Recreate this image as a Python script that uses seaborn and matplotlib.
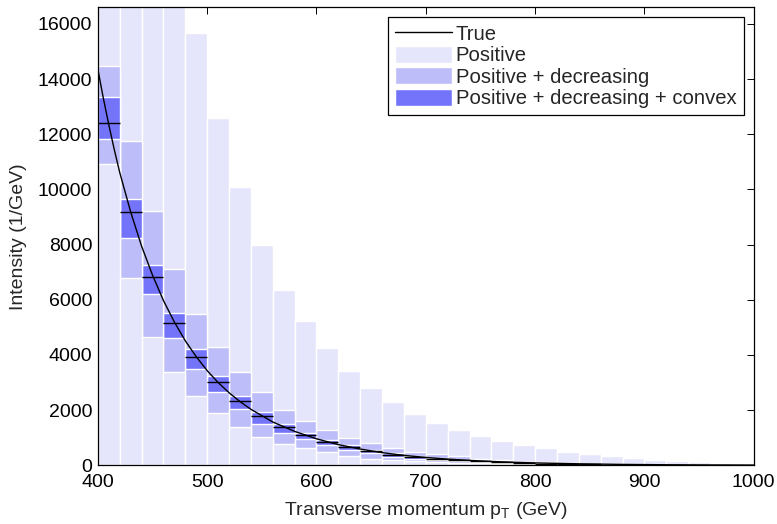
import matplotlib
matplotlib.use("Agg")
import matplotlib.pyplot as plt
import seaborn as sns
from matplotlib.lines import Line2D
from matplotlib.patches import Patch

# Bin centres of the 20 GeV wide pT bins
bin_centers = list(range(410, 1000, 20))
bin_width = 20

# Upper bound of the positivity-only interval (lower bound is 0)
positive_upper = [37000, 30000, 24000, 19500, 15670, 12580, 10100, 7985, 6340, 5220,
                  4250, 3420, 2800, 2290, 1855, 1545, 1280, 1075, 880, 737,
                  616, 495, 415, 340, 270, 193, 157, 121, 72, 48]

# Positive + decreasing interval
decreasing_upper = [14460, 11740, 9220, 7100, 5480, 4300, 3390, 2650, 2020, 1610,
                    1270, 1000, 800, 615, 495, 400, 320, 235, 180, 135,
                    105, 80, 60, 45, 35, 25, 18, 12, 8, 5]
decreasing_lower = [10930, 6800, 4640, 3370, 2500, 1900, 1400, 1040, 785, 645,
                    465, 340, 240, 190, 155, 130, 100, 80, 60, 45,
                    35, 25, 20, 15, 10, 8, 5, 3, 2, 1]

# Positive + decreasing + convex interval
convex_upper = [13340, 9650, 7260, 5520, 4230, 3240, 2510, 1930, 1500, 1185,
                920, 725, 555, 435, 340, 265, 205, 155, 120, 90,
                70, 55, 42, 32, 25, 18, 13, 9, 6, 4]
convex_lower = [11830, 8230, 6200, 4600, 3480, 2660, 2030, 1510, 1180, 965,
                740, 555, 435, 315, 240, 190, 145, 110, 85, 65,
                50, 38, 28, 21, 15, 11, 8, 5, 3, 2]

# True bin-averaged intensity
true_mean = [12410, 9170, 6840, 5150, 3910, 3010, 2320, 1780, 1400, 1090,
             860, 650, 520, 390, 300, 230, 180, 140, 105, 80,
             62, 48, 37, 28, 21, 16, 12, 9, 6, 4]

# True spectrum
curve_pt = [400, 405, 410, 415, 420, 430, 440, 450, 460, 470, 480, 490, 500, 510,
            520, 530, 540, 560, 580, 600, 620, 640, 660, 680, 700, 720, 740, 760,
            780, 800, 840, 880, 920, 960, 1000]
curve_val = [14350, 13300, 12340, 11440, 10610, 9180, 7940, 6890, 5970, 5190, 4510,
             3935, 3430, 3000, 2630, 2310, 2030, 1570, 1230, 960, 750, 590, 460,
             360, 285, 225, 178, 140, 110, 87, 54, 33, 20, 11, 6]

x_ticks = [400, 500, 600, 700, 800, 900, 1000]
y_ticks = [0, 2000, 4000, 6000, 8000, 10000, 12000, 14000, 16000]

c_pos = "#E5E5FB"
c_dec = "#BDBDFA"
c_cvx = "#7474FB"

sns.set_theme(style="ticks")
plt.rcParams["font.family"] = ["Liberation Sans", "DejaVu Sans"]
plt.rcParams["mathtext.fontset"] = "custom"
plt.rcParams["mathtext.rm"] = "Liberation Sans"
plt.rcParams["mathtext.it"] = "Liberation Sans"
plt.rcParams["axes.edgecolor"] = "black"

fig = plt.figure(figsize=(7.77, 5.24), dpi=100)
ax = fig.add_axes([0.126, 0.112, 0.844, 0.874])

# Nested intervals: painted outer to inner so each band keeps its own colour
layers = [(positive_upper, c_pos), (decreasing_upper, c_dec), (convex_upper, c_cvx),
          (convex_lower, c_dec), (decreasing_lower, c_pos)]
for vals, col in layers:
    sns.barplot(x=bin_centers, y=vals, native_scale=True, orient="x", width=1,
                color=col, saturation=1, edgecolor="white", linewidth=1.0,
                errorbar=None, ax=ax)

# True bin averages as short horizontal segments
left_edges = [c - bin_width / 2 for c in bin_centers]
right_edges = [c + bin_width / 2 for c in bin_centers]
ax.hlines(true_mean, left_edges, right_edges, colors="black", linewidth=1.0, zorder=3)

sns.lineplot(x=curve_pt, y=curve_val, color="black", linewidth=1.0, ax=ax, zorder=4)

ax.set_xlim(400, 1000)
ax.set_ylim(0, 16600)
ax.set_xticks(x_ticks)
ax.set_yticks(y_ticks)
ax.tick_params(direction="in", top=True, right=True, length=5, width=0.7,
               color="black", labelsize=14, labelcolor="black")
ax.tick_params(axis="x", pad=6)
ax.tick_params(axis="y", pad=4)
for s in ax.spines.values():
    s.set_linewidth(0.9)
    s.set_color("black")

ax.set_xlabel(r"Transverse momentum p$_\mathrm{T}$ (GeV)", fontsize=14, labelpad=7)
ax.set_ylabel("Intensity (1/GeV)", fontsize=14, labelpad=8)

handles = [Line2D([0], [0], color="black", linewidth=1.0),
           Patch(facecolor=c_pos, edgecolor="white"),
           Patch(facecolor=c_dec, edgecolor="white"),
           Patch(facecolor=c_cvx, edgecolor="white")]
labels = ["True", "Positive", "Positive + decreasing", "Positive + decreasing + convex"]
leg = ax.legend(handles, labels, loc="upper right", fontsize=14.6, frameon=True,
                fancybox=False, framealpha=1, edgecolor="black",
                handlelength=2.8, handleheight=0.9, labelspacing=0.1,
                handletextpad=0.2, borderpad=0.35, borderaxespad=0.5)
leg.get_frame().set_linewidth(0.9)

fig.savefig("out.png", dpi=100)
